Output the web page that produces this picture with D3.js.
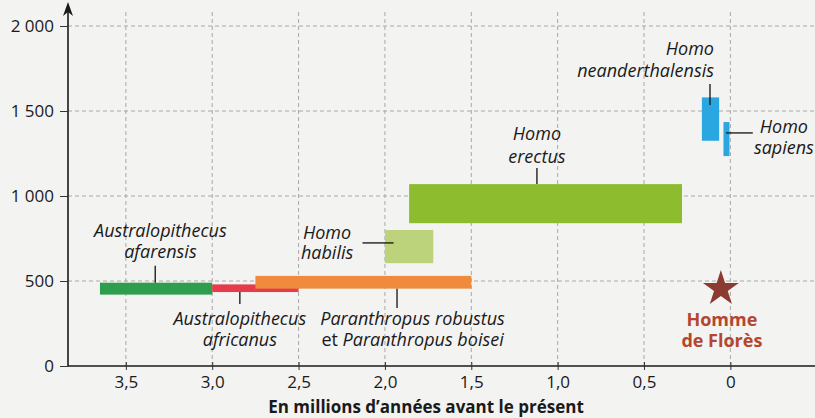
<!DOCTYPE html>
<html>
<head>
<meta charset="utf-8">
<script src="https://cdn.jsdelivr.net/npm/d3@7"></script>
<style>
body{margin:0;background:#f3f3f2;}
svg{display:block;font-family:"Open Sans",sans-serif;}
.grid line{stroke:#a8a8a8;stroke-width:1;stroke-dasharray:4,3;}
.lab{font-style:italic;font-size:18px;fill:#1a1a1a;}
.lead{stroke:#111;stroke-width:1.3;}
</style>
</head>
<body>
<script>
//species shown as boxes: time span (millions of years) and brain volume range (cm3)
var names=["afarensis","africanus","paranthropus","habilis","erectus","neanderthalensis","sapiens"];
var tOld=[3.65,3.0,2.75,2.0,1.86,0.165,0.04];
var tYoung=[3.0,2.5,1.5,1.72,0.28,0.065,0.005];
var volMin=[420,435,455,605,840,1325,1235];
var volMax=[490,480,530,800,1070,1580,1435];

//Homme de Florès point
var floresT=0.055, floresVol=460;

//tick labels
var xTicks=[3.5,3.0,2.5,2.0,1.5,1.0,0.5,0];
var yTicks=[0,500,1000,1500,2000];

var colors={afarensis:"#2f9e4c",africanus:"#e63b4b",paranthropus:"#f08a3c",habilis:"#bcd37c",
	erectus:"#8dbd2e",neanderthalensis:"#2aa6e0",sapiens:"#2aa6e0"};

var width=815,height=418;

var svg=d3.select("body").append("svg")
	.attr("width",width)
	.attr("height",height);

var x=d3.scaleLinear().domain([3.835,-0.49]).range([68,815]);
var y=d3.scaleLinear().domain([0,2000]).range([366,26]);

//dashed grid
var grid=svg.append("g").attr("class","grid");
grid.selectAll(".h").data(yTicks.filter(function(d){return d>0;}))
	.enter().append("line")
	.attr("x1",x.range()[0]).attr("x2",width)
	.attr("y1",function(d){return y(d);}).attr("y2",function(d){return y(d);});
grid.selectAll(".v").data(xTicks)
	.enter().append("line")
	.attr("x1",function(d){return x(d);}).attr("x2",function(d){return x(d);})
	.attr("y1",y(0)).attr("y2",10);

//boxes
var order=[0,1,2,3,4,5,6];
svg.selectAll(".box").data(order)
	.enter().append("rect")
	.attr("class","box")
	.attr("x",function(i){return x(tOld[i]);})
	.attr("width",function(i){return x(tYoung[i])-x(tOld[i]);})
	.attr("y",function(i){return y(volMax[i]);})
	.attr("height",function(i){return y(volMin[i])-y(volMax[i]);})
	.attr("fill",function(i){return colors[names[i]];});

//star for Florès
var star=d3.symbol().type(d3.symbolStar).size(400);
svg.append("path")
	.attr("d",star())
	.attr("transform","translate("+x(floresT)+","+(y(floresVol)+1)+")")
	.attr("fill","#8c3b33");

//axes
var xAxis=d3.axisBottom(x).tickValues(xTicks).tickSize(4)
	.tickFormat(function(d){return d===0?"0":d3.format(".1f")(d).replace(".",",");});
var gx=svg.append("g").attr("transform","translate(0,"+y(0)+")").call(xAxis);
gx.select(".domain").attr("d","M"+x.range()[0]+",0H"+width).attr("stroke","#1a1a1a").attr("stroke-width",1.6);
gx.selectAll(".tick line").attr("y1",-4).attr("y2",4).attr("stroke","#333");
gx.selectAll(".tick text").attr("y",10).attr("font-size",17).attr("fill","#1a1a1a")
	.attr("font-family","Open Sans, sans-serif");

var yAxis=d3.axisLeft(y).tickValues(yTicks).tickSize(8)
	.tickFormat(function(d){return d3.format(",")(d).replace(","," ");});
var gy=svg.append("g").attr("transform","translate("+x.range()[0]+",0)").call(yAxis);
gy.select(".domain").attr("d","M0,"+y(0)+"V6").attr("stroke","#1a1a1a").attr("stroke-width",1.6);
gy.selectAll(".tick line").attr("stroke","#333");
gy.selectAll(".tick text").attr("x",-14).attr("font-size",17).attr("fill","#1a1a1a")
	.attr("font-family","Open Sans, sans-serif").style("white-space","pre");
//arrow head
svg.append("path")
	.attr("d","M"+x.range()[0]+",2l-5,14l5,-4l5,4z")
	.attr("fill","#1a1a1a");

svg.append("text")
	.attr("x",426).attr("y",413)
	.attr("text-anchor","middle")
	.attr("font-weight","bold").attr("font-size",17).attr("fill","#1a1a1a")
	.text("En millions d\u2019années avant le présent");

//labels: lines, anchor time, baseline volumes, alignment
var labLines=[["Australopithecus","afarensis"],["Australopithecus","africanus"],
	["Paranthropus robustus","et Paranthropus boisei"],["Homo","habilis"],["Homo","erectus"],
	["Homo","neanderthalensis"],["Homo","sapiens"]];
var labT=[3.30,2.84,1.84,2.335,1.12,0.095,-0.31];
var labV=[[759,635],[241,118],[241,118],[747,629],[1329,1194],[1829,1700],[1371,1247]];
var labAnchor=["middle","middle","middle","middle","middle","end","middle"];

labLines.forEach(function(lines,i){
	var t=svg.append("text").attr("class","lab").attr("text-anchor",labAnchor[i]);
	lines.forEach(function(s,j){
		var ts=t.append("tspan").attr("x",x(labT[i])).attr("y",y(labV[i][j]));
		if(s.indexOf("et ")===0){
			ts.append("tspan").attr("font-style","normal").text("et ");
			ts.append("tspan").text(s.slice(3));
		}else ts.text(s);
	});
});

//leader lines [t1,v1,t2,v2]
var leaders=[[3.33,590,3.33,490],[2.84,435,2.84,365],[1.93,455,1.93,341],
	[2.13,724,1.95,724],[1.12,1165,1.12,1070],[0.118,1659,0.118,1535],[0.025,1371,-0.13,1371]];
svg.selectAll(".lead").data(leaders)
	.enter().append("line").attr("class","lead")
	.attr("x1",function(d){return x(d[0]);}).attr("y1",function(d){return y(d[1]);})
	.attr("x2",function(d){return x(d[2]);}).attr("y2",function(d){return y(d[3]);});

//Homme de Florès label
svg.append("text")
	.attr("text-anchor","middle").attr("font-weight","bold").attr("font-size",18)
	.attr("fill","#b4462f")
	.selectAll("tspan").data(["Homme","de Florès"]).enter().append("tspan")
	.attr("x",x(floresT)+1)
	.attr("y",function(d,i){return 326+i*21;})
	.text(function(d){return d;});
</script>
</body>
</html>
